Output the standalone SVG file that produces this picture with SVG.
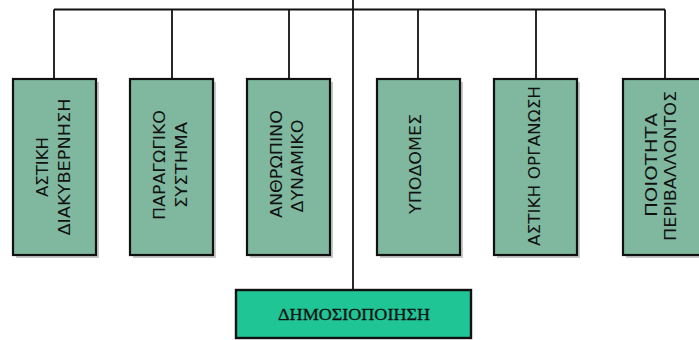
<svg xmlns="http://www.w3.org/2000/svg" width="699" height="340" viewBox="0 0 699 340">
<style>
.ln{stroke:#111;stroke-width:1.8;fill:none}
.bx{fill:#7fb89f;stroke:#111;stroke-width:2.2}
.sh{fill:#9a9a9a;opacity:0.55}
.vt{font-family:"DejaVu Sans","Liberation Sans",sans-serif;font-size:15px;fill:#111;text-anchor:middle;dominant-baseline:central}
.bt{font-family:"Liberation Serif","Times New Roman",serif;font-size:17px;fill:#111;stroke:#111;stroke-width:0.3;text-anchor:middle;dominant-baseline:central}
</style>
<rect width="699" height="340" fill="#fff"/>
<g id="connectors">
<line class="ln" x1="54" y1="9.5" x2="665" y2="9.5"/>
<line class="ln" x1="353" y1="0" x2="353" y2="290"/>
<line class="ln" x1="54" y1="9.5" x2="54" y2="79"/>
<line class="ln" x1="172" y1="9.5" x2="172" y2="79"/>
<line class="ln" x1="289" y1="9.5" x2="289" y2="79"/>
<line class="ln" x1="418" y1="9.5" x2="418" y2="79"/>
<line class="ln" x1="536" y1="9.5" x2="536" y2="79"/>
<line class="ln" x1="665" y1="9.5" x2="665" y2="79"/>
</g>
<g id="n1">
<rect class="sh" x="16" y="82" width="83" height="176"/>
<rect class="bx" x="13" y="79" width="83" height="176"/>
<text class="vt" transform="translate(43,167) rotate(-90)" textLength="60" lengthAdjust="spacingAndGlyphs">ΑΣΤΙΚΗ</text>
<text class="vt" transform="translate(65,167) rotate(-90)" textLength="137" lengthAdjust="spacingAndGlyphs">ΔΙΑΚΥΒΕΡΝΗΣΗ</text>
</g>
<g id="n2">
<rect class="sh" x="133" y="82" width="83" height="176"/>
<rect class="bx" x="130" y="79" width="83" height="176"/>
<text class="vt" transform="translate(160,165) rotate(-90)" textLength="110" lengthAdjust="spacingAndGlyphs">ΠΑΡΑΓΩΓΙΚΟ</text>
<text class="vt" transform="translate(182,165) rotate(-90)" textLength="86" lengthAdjust="spacingAndGlyphs">ΣΥΣΤΗΜΑ</text>
</g>
<g id="n3">
<rect class="sh" x="250" y="82" width="83" height="176"/>
<rect class="bx" x="247" y="79" width="83" height="176"/>
<text class="vt" transform="translate(277,164) rotate(-90)" textLength="108" lengthAdjust="spacingAndGlyphs">ΑΝΘΡΩΠΙΝΟ</text>
<text class="vt" transform="translate(298,166) rotate(-90)" textLength="93" lengthAdjust="spacingAndGlyphs">ΔΥΝΑΜΙΚΟ</text>
</g>
<g id="n4">
<rect class="sh" x="380" y="82" width="83" height="176"/>
<rect class="bx" x="377" y="79" width="83" height="176"/>
<text class="vt" transform="translate(416,164) rotate(-90)" textLength="100" lengthAdjust="spacingAndGlyphs">ΥΠΟΔΟΜΕΣ</text>
</g>
<g id="n5">
<rect class="sh" x="497" y="82" width="83" height="176"/>
<rect class="bx" x="494" y="79" width="83" height="176"/>
<text class="vt" transform="translate(535,166) rotate(-90)" textLength="160" lengthAdjust="spacingAndGlyphs">ΑΣΤΙΚΗ ΟΡΓΑΝΩΣΗ</text>
</g>
<g id="n6">
<rect class="sh" x="626" y="82" width="83" height="176"/>
<rect class="bx" x="623" y="79" width="83" height="176"/>
<text class="vt" transform="translate(652,165) rotate(-90)" textLength="104" lengthAdjust="spacingAndGlyphs">ΠΟΙΟΤΗΤΑ</text>
<text class="vt" transform="translate(671,166) rotate(-90)" textLength="150" lengthAdjust="spacingAndGlyphs">ΠΕΡΙΒΑΛΛΟΝΤΟΣ</text>
</g>
<g id="n7">
<rect x="236" y="290" width="235" height="48" fill="#20c595" stroke="#111" stroke-width="2.4"/>
<text class="bt" x="354" y="314" textLength="152" lengthAdjust="spacingAndGlyphs">ΔΗΜΟΣΙΟΠΟΙΗΣΗ</text>
</g>
</svg>
